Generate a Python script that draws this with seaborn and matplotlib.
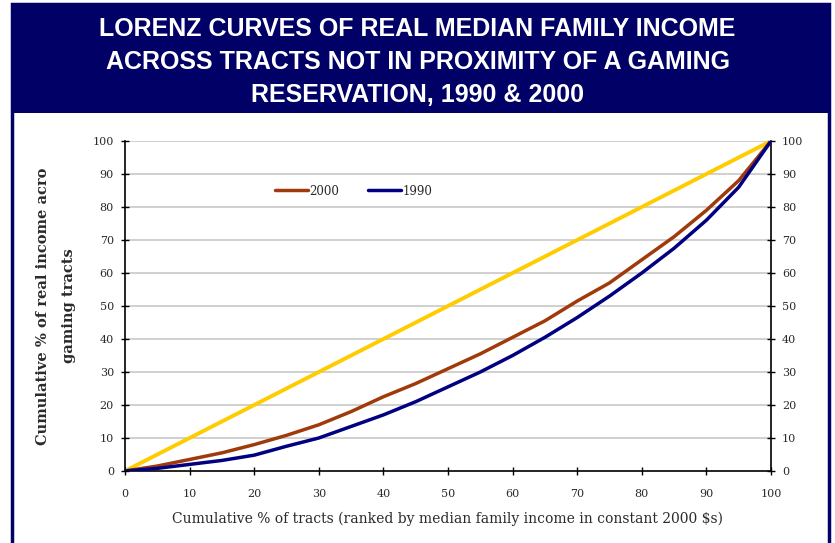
import numpy as np
import pandas as pd
import matplotlib
matplotlib.use("Agg")
import matplotlib.pyplot as plt
import seaborn as sns
from matplotlib.patches import Rectangle

# --- DATA ---
pct_tracts = [0, 5, 10, 15, 20, 25, 30, 35, 40, 45, 50, 55, 60, 65, 70, 75, 80, 85, 90, 95, 100]
income_2000 = [0, 1.5, 3.5, 5.5, 8, 10.8, 14, 18, 22.5, 26.5, 31, 35.5, 40.5, 45.5, 51.5, 57, 64, 71, 79, 88, 100]
income_1990 = [0, 0.8, 2, 3.2, 4.8, 7.5, 10, 13.5, 17, 21, 25.5, 30, 35, 40.5, 46.5, 53, 60, 67.5, 76, 86, 100]
equality = pct_tracts
ticks = list(range(0, 101, 10))

title = "LORENZ CURVES OF REAL MEDIAN FAMILY INCOME\nACROSS TRACTS NOT IN PROXIMITY OF A GAMING\nRESERVATION, 1990 & 2000"
xlab = "Cumulative % of tracts (ranked by median family income in constant 2000 $s)"
ylab = "Cumulative % of real income acro\ngaming tracts"

navy = "#000066"
colors = {"2000": "#A03A0A", "1990": "#000080"}
txt = "#2a2a2a"

sns.set_style("white")
plt.rcParams['font.family'] = ['DejaVu Serif', 'Liberation Serif']

fig = plt.figure(figsize=(8.35, 5.43), dpi=100)

# frame + title band (behind the axes)
fig.patches.append(Rectangle((12 / 835, -0.01), 817 / 835, 1.01 - 4 / 543, transform=fig.transFigure,
                             facecolor="white", edgecolor=navy, lw=2.5, zorder=-10))
fig.patches.append(Rectangle((12 / 835, 1 - 113 / 543), 817 / 835, 109 / 543, transform=fig.transFigure,
                             facecolor=navy, edgecolor=navy, lw=0, zorder=-9))
fig.text(0.5, 1 - 62 / 543, title, ha="center", va="center", color="white", fontsize=18,
         fontweight="bold", family=["Liberation Sans Narrow", "Liberation Sans", "DejaVu Sans"],
         linespacing=1.45)

ax = fig.add_axes([125 / 835, 1 - 471 / 543, 646 / 835, 330 / 543])
ax.set_facecolor("white")

df = pd.concat([
    pd.DataFrame({"x": pct_tracts, "y": income_2000, "year": "2000"}),
    pd.DataFrame({"x": pct_tracts, "y": income_1990, "year": "1990"}),
])

for yv in ticks[1:]:
    ax.axhline(yv, color="#c8c8c8", lw=1.2, zorder=0)

ax.plot(pct_tracts, equality, color="#FFCC00", lw=2.8, zorder=2)
sns.lineplot(data=df, x="x", y="y", hue="year", palette=colors, lw=2.5, ax=ax, zorder=3)

ax.set_xlim(0, 100)
ax.set_ylim(0, 100)
ax.set_xticks(ticks)
ax.set_yticks(ticks)
ax.tick_params(axis="both", direction="inout", length=6, width=1, labelsize=8, colors="black",
               labelcolor=txt, pad=5)
ax.tick_params(axis="y", right=True, labelright=True, left=True)
ax.tick_params(axis="x", bottom=True, pad=10)
for side in ["left", "right", "bottom"]:
    ax.spines[side].set_visible(True)
    ax.spines[side].set_color("black")
    ax.spines[side].set_linewidth(1.2)
ax.spines["top"].set_visible(False)

ax.set_xlabel(xlab, fontsize=10, color=txt, labelpad=9)
ax.set_ylabel(ylab, fontsize=10.5, color=txt, fontweight="bold", labelpad=12, linespacing=2.1)

leg = ax.legend(loc="upper left", bbox_to_anchor=(0.215, 0.9), ncol=2, frameon=False, fontsize=8.5,
                handlelength=2.8, columnspacing=2.4, handletextpad=0.15)
for t in leg.get_texts():
    t.set_color(txt)

fig.savefig("out.png", dpi=100)
